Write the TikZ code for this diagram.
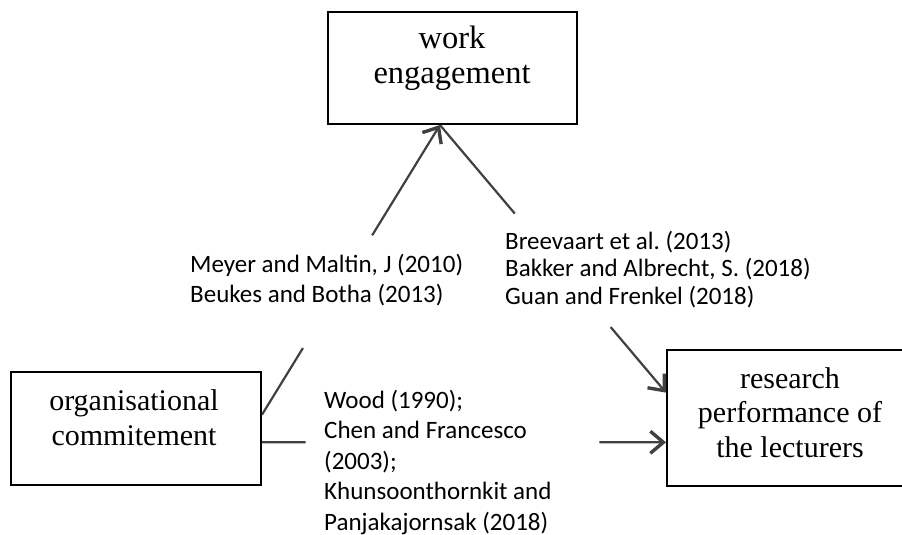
\documentclass[tikz,border=0pt]{standalone}
\usepackage{fontspec}
\setmainfont{Liberation Serif}
\newfontfamily\labelfont{Carlito}
\usetikzlibrary{arrows.meta,calc}
\begin{document}
\frenchspacing
\begin{tikzpicture}[x=1pt,y=-1pt,
  box/.style={draw=black, line width=2pt, inner sep=0pt},
  boxtext/.style={font=\fontsize{30}{34.5}\selectfont, align=center, inner sep=0pt, anchor=base},
  lbl/.style={font=\labelfont\fontsize{25}{30}\selectfont, align=left, inner sep=0pt, anchor=base west},
  conn/.style={draw=black!75, line width=2.2pt},
  arr/.style={conn, -{Straight Barb[length=13pt,width=22pt,line width=3.4pt]}}]
\useasboundingbox (0,0) rectangle (902,535);
\clip (0,0) rectangle (902,535);
% boxes
\node[box, minimum width=249pt, minimum height=112pt] (work) at (452.5,68) {};
\node[box, minimum width=250pt, minimum height=113pt] (org) at (136,428.5) {};
\node[box, minimum width=246pt, minimum height=136pt] (res) at (790,418) {};
% box texts (anchor = baseline of the last line)
\node[boxtext, font=\fontsize{32.5}{34.5}\selectfont] (worktext) at (452,83) {work\\engagement};
\node[boxtext] (orgtext) at (134,445) {organisational\\commitement};
\node[boxtext] (restext) at (790,457) {research\\performance of\\the lecturers};
% labels
\node[lbl] (l1) at (190,302) {Meyer and Maltin, J (2010)\\Beukes and Botha (2013)};
\node[lbl, font=\labelfont\fontsize{25}{27.5}\selectfont] (l2) at (505,304) {Breevaart et al. (2013)\\Bakker and Albrecht, S. (2018)\\Guan and Frenkel (2018)};
\node[lbl, font=\labelfont\fontsize{25}{30.5}\selectfont] (l3) at (324,530) {Wood (1990);\\Chen and Francesco\\(2003);\\Khunsoonthornkit and\\Panjakajornsak (2018)};
% connector end points
\coordinate (A) at ($(org.north east)!0.38!(org.south east)$);
\coordinate (B) at ($(work.south west)!0.45!(work.south east)$);
\coordinate (C) at ($(res.north west)!0.316!(res.south west)$);
\coordinate (E) at ($(org.north east)!0.62!(org.south east)$);
\coordinate (F) at ($(res.north west)!0.676!(res.south west)$);
% org -> work
\draw[conn] (A) -- ($(A)!0.23!(B)$);
\draw[arr] ($(A)!0.619!(B)$) -- (B);
% work -> research
\draw[conn] (B) -- ($(B)!0.331!(C)$);
\draw[arr] ($(B)!0.755!(C)$) -- (C);
% org -> research
\draw[conn] (E) -- ($(E)!0.108!(F)$);
\draw[arr] ($(E)!0.835!(F)$) -- (F);
\end{tikzpicture}
\end{document}
